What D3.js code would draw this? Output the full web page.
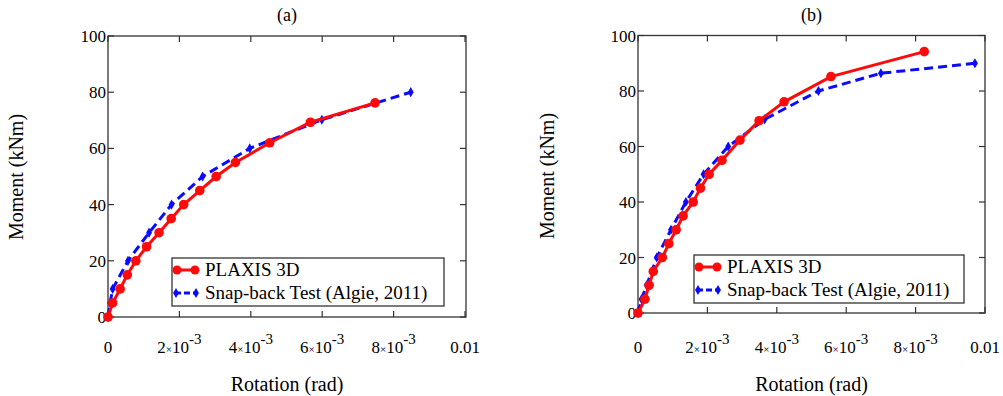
<!DOCTYPE html>
<html><head><meta charset="utf-8">
<script src="https://cdn.jsdelivr.net/npm/d3@7"></script>
</head><body style="margin:0"><svg id="c" width="1003" height="396"></svg>
<script>
// ---- data ----
const plaxisA_x = [0, 0.00013, 0.00034, 0.00054, 0.00078, 0.00108, 0.00143, 0.00177, 0.00212, 0.00257, 0.00303, 0.00357, 0.00453, 0.00567, 0.00748];
const plaxisA_y = [0, 5, 10, 15, 20, 25, 30, 35, 40, 45, 50, 55, 62, 69.3, 76.2];
const snapA_x = [0, 0.00006, 0.00013, 0.00056, 0.00115, 0.00178, 0.00265, 0.00397, 0.00599, 0.00848];
const snapA_y = [0, 5, 10, 20, 30, 40, 50, 60, 70.2, 80];
const plaxisB_x = [0, 0.0002, 0.00032, 0.00044, 0.0007, 0.00089, 0.0011, 0.0013, 0.00159, 0.0018, 0.00205, 0.00242, 0.00294, 0.00349, 0.00421, 0.00556, 0.00825];
const plaxisB_y = [0, 5, 10, 15, 20, 25, 30, 35, 40, 45, 50, 55, 62.3, 69.3, 76.1, 85.2, 94.2];
const snapB_x = [0, 0.0001, 0.00025, 0.00054, 0.00095, 0.00138, 0.00189, 0.0026, 0.00365, 0.0052, 0.007, 0.00971];
const snapB_y = [0, 5, 10, 20, 30, 40, 50, 60, 69.8, 80, 86.4, 90];
const xTicks = [0, 0.002, 0.004, 0.006, 0.008, 0.01];
const xTickLabels = [["0", null], ["2", "-3"], ["4", "-3"], ["6", "-3"], ["8", "-3"], ["0.01", null]];
const yTicks = [0, 20, 40, 60, 80, 100];
const titles = ["(a)", "(b)"];
const seriesNames = ["PLAXIS 3D", "Snap-back Test (Algie, 2011)"];
const xLabel = "Rotation (rad)";
const yLabel = "Moment (kNm)";

const svg = d3.select("#c").style("display", "block");
const panels = [
  {title: titles[0], box: {l:108, r:466, t:36, b:317}, xr:[108,465], red:[plaxisA_x, plaxisA_y], blue:[snapA_x, snapA_y], leg:{x:172, y:258, w:272, h:48}, ylabX:23, ylabY:177},
  {title: titles[1], box: {l:638, r:985, t:35.5, b:313}, xr:[638,985], red:[plaxisB_x, plaxisB_y], blue:[snapB_x, snapB_y], leg:{x:694, y:255, w:270, h:48}, ylabX:554, ylabY:176}
];

function T(sel, size) {
  return sel.append("text").attr("font-size", size).attr("font-family", `'Liberation Serif'`)
    .style("font-family", "'Liberation Serif'", "important");
}

panels.forEach(p => {
  const x = d3.scaleLinear().domain([0, 0.01]).range(p.xr);
  const y = d3.scaleLinear().domain([0, 100]).range([p.box.b, p.box.t]);
  const B = p.box;
  svg.append("rect").attr("x", B.l).attr("y", B.t).attr("width", B.r - B.l).attr("height", B.b - B.t)
    .attr("fill", "none").attr("stroke", "#333").attr("stroke-width", 1.3);
  const tl = 6;
  xTicks.forEach(t => {
    const xx = x(t);
    svg.append("line").attr("x1", xx).attr("x2", xx).attr("y1", B.b).attr("y2", B.b - tl).attr("stroke", "#333").attr("stroke-width", 1.2);
    svg.append("line").attr("x1", xx).attr("x2", xx).attr("y1", B.t).attr("y2", B.t + tl).attr("stroke", "#333").attr("stroke-width", 1.2);
  });
  yTicks.forEach(t => {
    const yy = y(t);
    svg.append("line").attr("x1", B.l).attr("x2", B.l + tl).attr("y1", yy).attr("y2", yy).attr("stroke", "#333").attr("stroke-width", 1.2);
    svg.append("line").attr("x1", B.r).attr("x2", B.r - tl).attr("y1", yy).attr("y2", yy).attr("stroke", "#333").attr("stroke-width", 1.2);
    T(svg, 17).attr("x", B.l - 2).attr("y", yy + 6).attr("text-anchor", "end").text(t);
  });
  xTicks.forEach((t, i) => {
    const [m, e] = xTickLabels[i];
    const tx = T(svg, 17).attr("x", x(t)).attr("y", 353).attr("text-anchor", "middle");
    if (e === null) { tx.text(m); }
    else {
      tx.append("tspan").text(m);
      tx.append("tspan").attr("font-size", 11).text("×");
      tx.append("tspan").text("10");
      tx.append("tspan").attr("dy", -9).attr("font-size", 15).text(e);
    }
  });
  T(svg, 18).attr("x", (B.l + B.r) / 2).attr("y", 21).attr("text-anchor", "middle").text(p.title);
  T(svg, 20).attr("x", (B.l + B.r) / 2).attr("y", 391).attr("text-anchor", "middle").text(xLabel);
  T(svg, 20).attr("transform", `translate(${p.ylabX},${p.ylabY}) rotate(-90)`).attr("text-anchor", "middle").text(yLabel);

  const line = d3.line().x(d => x(d[0])).y(d => y(d[1]));
  const blueData = p.blue[0].map((v, i) => [v, p.blue[1][i]]);
  const redData = p.red[0].map((v, i) => [v, p.red[1][i]]);
  svg.append("path").datum(blueData).attr("d", line).attr("fill", "none").attr("stroke", "#0a0aff").attr("stroke-width", 3).attr("stroke-dasharray", "9,5");
  const diamond = d3.symbol().type(d3.symbolDiamond).size(30);
  blueData.forEach(d => svg.append("path").attr("d", diamond).attr("transform", `translate(${x(d[0])},${y(d[1])})`).attr("fill", "#0a0aff"));
  svg.append("path").datum(redData).attr("d", line).attr("fill", "none").attr("stroke", "#ff0a0a").attr("stroke-width", 3);
  redData.forEach(d => svg.append("circle").attr("cx", x(d[0])).attr("cy", y(d[1])).attr("r", 4.8).attr("fill", "#ff0a0a"));

  const L = p.leg;
  svg.append("rect").attr("x", L.x).attr("y", L.y).attr("width", L.w).attr("height", L.h).attr("fill", "#fff").attr("stroke", "#333").attr("stroke-width", 1.3);
  const r1 = L.y + 12, r2 = L.y + 35;
  svg.append("line").attr("x1", L.x + 3).attr("x2", L.x + 25).attr("y1", r1).attr("y2", r1).attr("stroke", "#ff0a0a").attr("stroke-width", 3);
  [L.x + 5, L.x + 23].forEach(cx => svg.append("circle").attr("cx", cx).attr("cy", r1).attr("r", 4.5).attr("fill", "#ff0a0a"));
  svg.append("line").attr("x1", L.x + 3).attr("x2", L.x + 25).attr("y1", r2).attr("y2", r2).attr("stroke", "#0a0aff").attr("stroke-width", 3).attr("stroke-dasharray", "6,3");
  [L.x + 4, L.x + 24].forEach(cx => svg.append("path").attr("d", diamond).attr("transform", `translate(${cx},${r2})`).attr("fill", "#0a0aff"));
  T(svg, 19).attr("x", L.x + 33).attr("y", r1 + 6).text(seriesNames[0]);
  T(svg, 19).attr("x", L.x + 33).attr("y", r2 + 6).text(seriesNames[1]);
});
</script></body></html>
